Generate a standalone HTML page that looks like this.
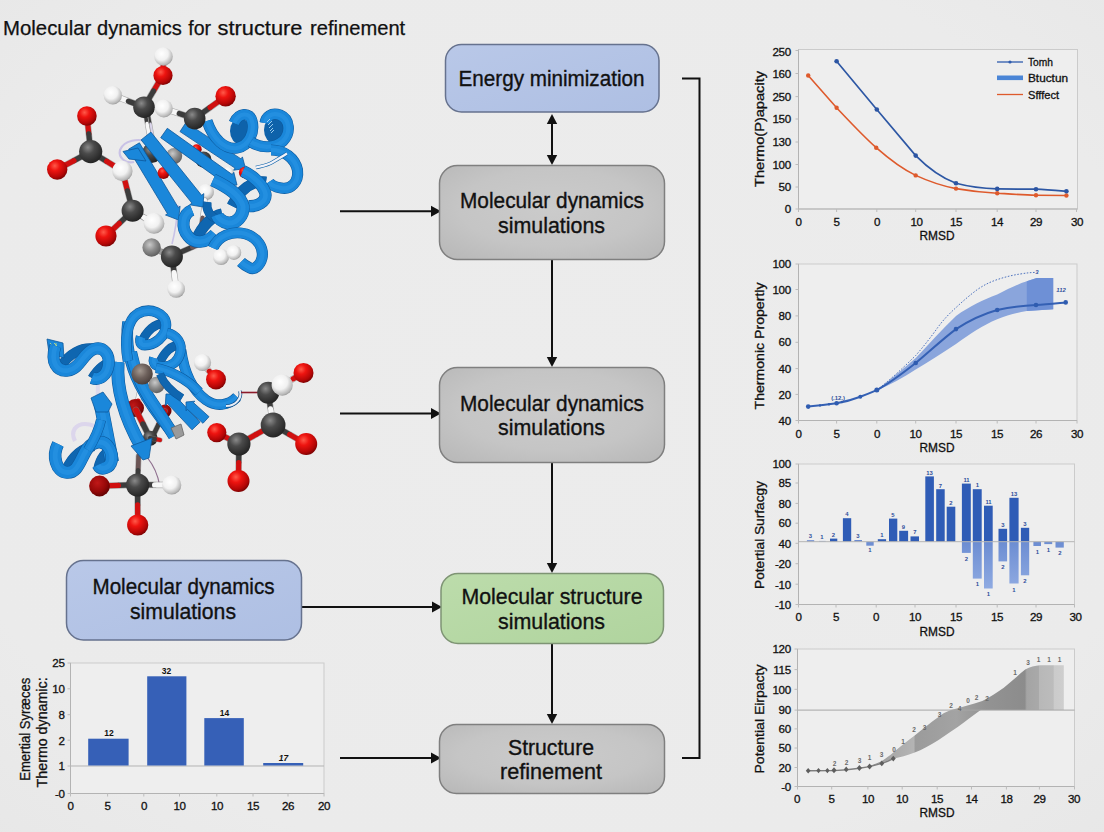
<!DOCTYPE html>
<html>
<head>
<meta charset="utf-8">
<title>Molecular dynamics for structure refinement</title>
<style>
html,body{margin:0;padding:0;background:#eaeaea;}
body{width:1104px;height:832px;overflow:hidden;font-family:"Liberation Sans",sans-serif;}
svg{display:block;position:absolute;left:0;top:0;}
text{font-family:"Liberation Sans",sans-serif;fill:#111;}
.bx{font-size:22px;text-anchor:middle;stroke:#111;stroke-width:0.35px;}
.tk{font-size:11.6px;fill:#111;stroke:#111;stroke-width:0.3px;letter-spacing:-0.35px;}
.tke{font-size:11.6px;fill:#111;text-anchor:end;stroke:#111;stroke-width:0.3px;letter-spacing:-0.35px;}
.tkm{font-size:11.6px;fill:#111;text-anchor:middle;stroke:#111;stroke-width:0.3px;letter-spacing:-0.35px;}
.ax{font-size:13px;fill:#111;text-anchor:middle;stroke:#111;stroke-width:0.3px;}
.sm{font-size:5.9px;fill:#2f4f9c;text-anchor:middle;font-weight:bold;}
.smg{font-size:6.5px;fill:#6a6a6a;text-anchor:middle;font-weight:bold;}
</style>
</head>
<body>
<svg width="1104" height="832" viewBox="0 0 1104 832">
<defs>
  <radialGradient id="bg" cx="50%" cy="48%" r="75%">
    <stop offset="0" stop-color="#ececec"/>
    <stop offset="0.75" stop-color="#ebebeb"/>
    <stop offset="1" stop-color="#e7e7e7"/>
  </radialGradient>
  <radialGradient id="gGray" cx="50%" cy="45%" r="75%">
    <stop offset="0" stop-color="#cbcbcb"/>
    <stop offset="0.55" stop-color="#c5c5c5"/>
    <stop offset="1" stop-color="#b6b6b6"/>
  </radialGradient>
  <linearGradient id="gBlue" x1="0" y1="0" x2="1" y2="1">
    <stop offset="0" stop-color="#b9c8e8"/>
    <stop offset="1" stop-color="#aebfe3"/>
  </linearGradient>
  <linearGradient id="gGreen" x1="0" y1="0" x2="1" y2="1">
    <stop offset="0" stop-color="#bcdcab"/>
    <stop offset="1" stop-color="#b0d49e"/>
  </linearGradient>
  <!-- atom gradients -->
  <radialGradient id="aR" cx="38%" cy="32%" r="70%">
    <stop offset="0" stop-color="#ff5a4a"/>
    <stop offset="0.35" stop-color="#ee1410"/>
    <stop offset="0.8" stop-color="#b30606"/>
    <stop offset="1" stop-color="#7c0303"/>
  </radialGradient>
  <radialGradient id="aC" cx="38%" cy="32%" r="70%">
    <stop offset="0" stop-color="#8a8a8a"/>
    <stop offset="0.4" stop-color="#4a4a4a"/>
    <stop offset="1" stop-color="#232323"/>
  </radialGradient>
  <radialGradient id="aW" cx="40%" cy="35%" r="70%">
    <stop offset="0" stop-color="#ffffff"/>
    <stop offset="0.5" stop-color="#f1f1f1"/>
    <stop offset="0.85" stop-color="#b9b9b9"/>
    <stop offset="1" stop-color="#8f8f8f"/>
  </radialGradient>
  <radialGradient id="aG" cx="40%" cy="35%" r="70%">
    <stop offset="0" stop-color="#c9c9c9"/>
    <stop offset="0.5" stop-color="#8b8b8b"/>
    <stop offset="1" stop-color="#5a5a5a"/>
  </radialGradient>
  <radialGradient id="aBr" cx="40%" cy="35%" r="70%">
    <stop offset="0" stop-color="#a39890"/>
    <stop offset="0.5" stop-color="#6d605b"/>
    <stop offset="1" stop-color="#453a37"/>
  </radialGradient>
  <radialGradient id="aDR" cx="40%" cy="35%" r="70%">
    <stop offset="0" stop-color="#c01818"/>
    <stop offset="0.6" stop-color="#960808"/>
    <stop offset="1" stop-color="#5c0202"/>
  </radialGradient>
</defs>
<rect x="0" y="0" width="1104" height="832" fill="url(#bg)"/>

<!-- TITLE -->
<g font-size="20.5" stroke="#111" stroke-width="0.25"><text x="3" y="35.4" textLength="88.3" lengthAdjust="spacingAndGlyphs">Molecular</text><text x="97" y="35.4" textLength="84.8" lengthAdjust="spacingAndGlyphs">dynamics</text><text x="188.3" y="35.4" textLength="22.8" lengthAdjust="spacingAndGlyphs">for</text><text x="217.6" y="35.4" textLength="84.8" lengthAdjust="spacingAndGlyphs">structure</text><text x="310" y="35.4" textLength="95.2" lengthAdjust="spacingAndGlyphs">refinement</text></g>

<!-- FLOW: connectors -->
<g id="flow-lines" stroke="#111" stroke-width="2" fill="none">
  <path d="M552 121V158"/>
  <path d="M552 259V358"/>
  <path d="M552 462V564"/>
  <path d="M552 643V715"/>
  <path d="M340 211.2H432"/>
  <path d="M340 413.6H432"/>
  <path d="M301 607H433"/>
  <path d="M340 758H432"/>
  <path d="M682 78.5H699.5V758H682"/>
</g>
<g id="flow-heads" fill="#111">
  <path d="M552 114l5.2 10h-10.4z"/>
  <path d="M552 165l5.2-10h-10.4z"/>
  <path d="M552 367l5.2-10h-10.4z"/>
  <path d="M552 573l5.2-10h-10.4z"/>
  <path d="M552 724l5.2-10h-10.4z"/>
  <path d="M441 211.2l-10-5.5v11z"/>
  <path d="M441 413.6l-10-5.5v11z"/>
  <path d="M442 607l-10-5.5v11z"/>
  <path d="M441 758l-10-5.5v11z"/>
</g>

<!-- FLOW: boxes -->
<g id="flow-boxes">
  <rect x="445.5" y="44.5" width="213.5" height="67.5" rx="16" fill="url(#gBlue)" stroke="#66728e" stroke-width="1.5"/>
  <rect x="439.5" y="165.5" width="225" height="94" rx="18" fill="url(#gGray)" stroke="#7f7f7f" stroke-width="1.5"/>
  <rect x="439.5" y="367.5" width="225" height="95" rx="18" fill="url(#gGray)" stroke="#7f7f7f" stroke-width="1.5"/>
  <rect x="441" y="573.5" width="222.5" height="70" rx="17" fill="url(#gGreen)" stroke="#7e9474" stroke-width="1.5"/>
  <rect x="439.5" y="724.5" width="225" height="69" rx="17" fill="url(#gGray)" stroke="#7f7f7f" stroke-width="1.5"/>
  <rect x="66.5" y="560.5" width="235" height="79.5" rx="17" fill="url(#gBlue)" stroke="#66728e" stroke-width="1.5"/>
</g>
<g id="flow-text">
  <text class="bx" x="551.5" y="85.5" textLength="186" lengthAdjust="spacingAndGlyphs">Energy minimization</text>
  <text class="bx" x="552" y="208.0" textLength="184" lengthAdjust="spacingAndGlyphs">Molecular dynamics</text>
  <text class="bx" x="551.5" y="232.5" textLength="107" lengthAdjust="spacingAndGlyphs">simulations</text>
  <text class="bx" x="552" y="410.5" textLength="184" lengthAdjust="spacingAndGlyphs">Molecular dynamics</text>
  <text class="bx" x="551.5" y="435.0" textLength="107" lengthAdjust="spacingAndGlyphs">simulations</text>
  <text class="bx" x="552" y="604.0" textLength="181" lengthAdjust="spacingAndGlyphs">Molecular structure</text>
  <text class="bx" x="551.5" y="628.5" textLength="107" lengthAdjust="spacingAndGlyphs">simulations</text>
  <text class="bx" x="551" y="754.5" textLength="86" lengthAdjust="spacingAndGlyphs">Structure</text>
  <text class="bx" x="551" y="779.0" textLength="102" lengthAdjust="spacingAndGlyphs">refinement</text>
  <text class="bx" x="183.5" y="594.0" textLength="182" lengthAdjust="spacingAndGlyphs">Molecular dynamics</text>
  <text class="bx" x="183" y="618.5" textLength="106" lengthAdjust="spacingAndGlyphs">simulations</text>
</g>


<!-- ============ CHART 1 (line) ============ -->
<g id="chart1">
  <rect x="798.5" y="49.5" width="279" height="159.5" fill="#eeeeee" stroke="#cbcbcb" stroke-width="1"/>
  <path d="M798.5 49.5V209H1077.5" fill="none" stroke="#b3b3b3" stroke-width="1"/><path d="M798.5 209v3M836.6 209v3M876.8 209v3M915.7 209v3M956 209v3M997.2 209v3M1036 209v3M1076.5 209v3M798.5 50.5h-3M798.5 73.5h-3M798.5 96.6h-3M798.5 119h-3M798.5 142h-3M798.5 164.5h-3M798.5 187h-3M798.5 209h-3" stroke="#bcbcbc" stroke-width="1" fill="none"/>
  <g class="tke">
    <text class="tke" x="790.8" y="55.6">250</text>
    <text class="tke" x="790.8" y="77.6">160</text>
    <text class="tke" x="790.8" y="100.6">250</text>
    <text class="tke" x="790.8" y="123.1">150</text>
    <text class="tke" x="790.8" y="146.1">130</text>
    <text class="tke" x="790.8" y="168.6">100</text>
    <text class="tke" x="790.8" y="191.1">50</text>
    <text class="tke" x="790.8" y="213.1">0</text>
  </g>
  <g>
    <text class="tkm" x="798.5" y="225.6">0</text>
    <text class="tkm" x="836.5" y="225.6">5</text>
    <text class="tkm" x="877" y="225.6">0</text>
    <text class="tkm" x="916.5" y="225.6">10</text>
    <text class="tkm" x="956" y="225.6">15</text>
    <text class="tkm" x="997" y="225.6">14</text>
    <text class="tkm" x="1036" y="225.6">29</text>
    <text class="tkm" x="1077" y="225.6">30</text>
  </g>
  <text class="ax" x="937" y="240.4" textLength="35" lengthAdjust="spacingAndGlyphs">RMSD</text>
  <text class="ax" transform="translate(763.6 129) rotate(-90)" textLength="116" lengthAdjust="spacingAndGlyphs">Thermo(P)apacity</text>
  <!-- orange -->
  <path d="M808.2 75.5 L836.6 107.8 C850 122 863 136 876.2 147.7 C889 159 902 169 915.7 175.4 C929 181.5 942 186 956 188.6 C970 191 983 192.5 997.2 193.2 C1010 194 1023 195 1036 195.2 L1066.4 195.5" fill="none" stroke="#de5a2c" stroke-width="1.6"/>
  <g fill="#de5a2c">
    <circle cx="808.2" cy="75.5" r="2.2"/><circle cx="836.6" cy="107.8" r="2.2"/><circle cx="876.2" cy="147.7" r="2.2"/><circle cx="915.7" cy="175.4" r="2.2"/><circle cx="956" cy="188.6" r="2.2"/><circle cx="997.2" cy="193.2" r="2.2"/><circle cx="1036" cy="195.2" r="2.2"/><circle cx="1066.4" cy="195.5" r="2.2"/>
  </g>
  <!-- blue -->
  <path d="M836.6 61.3 L876.8 109.5 L915.7 155.6 C929 169 942 178 956 183.3 C970 187 983 188.5 997.2 188.9 C1010 189 1023 189 1036 189.2 C1046 189.6 1056 190.4 1066.4 191.2" fill="none" stroke="#2d57a4" stroke-width="1.7"/>
  <g fill="#2c55a3">
    <circle cx="836.6" cy="61.3" r="2.3"/><circle cx="876.8" cy="109.5" r="2.3"/><circle cx="915.7" cy="155.6" r="2.3"/><circle cx="956" cy="183.3" r="2.3"/><circle cx="997.2" cy="188.9" r="2.3"/><circle cx="1036" cy="189.2" r="2.3"/><circle cx="1066.4" cy="191.2" r="2.3"/>
  </g>
  <!-- legend -->
  <path d="M997 62H1023" stroke="#2f5cae" stroke-width="1.3"/><circle cx="1010" cy="62" r="1.6" fill="#2f5cae"/>
  <rect x="997" y="75.5" width="26" height="4.6" fill="#4a85d6"/>
  <path d="M997 94.5H1023" stroke="#de5a2c" stroke-width="1.3"/>
  <text x="1028" y="65.8" font-size="10.5" textLength="25" lengthAdjust="spacingAndGlyphs" stroke="#111" stroke-width="0.3">Tomh</text>
  <text x="1028" y="81.8" font-size="10.5" textLength="40" lengthAdjust="spacingAndGlyphs" stroke="#111" stroke-width="0.3">Btuctun</text>
  <text x="1028" y="98.5" font-size="10.5" textLength="31" lengthAdjust="spacingAndGlyphs" stroke="#111" stroke-width="0.3">Sfffect</text>
</g>

<!-- ============ CHART 2 (band) ============ -->
<g id="chart2">
  <rect x="798.5" y="264" width="278.5" height="156.5" fill="#eeeeee" stroke="#cbcbcb" stroke-width="1"/>
  <path d="M798.5 264V420.5H1077" fill="none" stroke="#b3b3b3" stroke-width="1"/><path d="M798.5 420.5v3M836.6 420.5v3M876.8 420.5v3M915.7 420.5v3M956 420.5v3M997.2 420.5v3M1036 420.5v3M1077 420.5v3M798.5 264h-3M798.5 289.5h-3M798.5 315.9h-3M798.5 342.3h-3M798.5 368.6h-3M798.5 394.4h-3M798.5 420.5h-3" stroke="#bcbcbc" stroke-width="1" fill="none"/>
  <g>
    <text class="tke" x="790.8" y="268.1">100</text>
    <text class="tke" x="790.8" y="293.6">100</text>
    <text class="tke" x="790.8" y="320.1">80</text>
    <text class="tke" x="790.8" y="346.1">60</text>
    <text class="tke" x="790.8" y="372.6">40</text>
    <text class="tke" x="790.8" y="398.6">20</text>
    <text class="tke" x="790.8" y="424.6">40</text>
  </g>
  <g>
    <text class="tkm" x="798.5" y="437.6">0</text>
    <text class="tkm" x="836.5" y="437.6">5</text>
    <text class="tkm" x="877" y="437.6">0</text>
    <text class="tkm" x="915.5" y="437.6">10</text>
    <text class="tkm" x="956" y="437.6">15</text>
    <text class="tkm" x="997" y="437.6">15</text>
    <text class="tkm" x="1036" y="437.6">26</text>
    <text class="tkm" x="1077" y="437.6">30</text>
  </g>
  <text class="ax" x="937" y="452.4" textLength="35" lengthAdjust="spacingAndGlyphs">RMSD</text>
  <text class="ax" transform="translate(763.6 346) rotate(-90)" textLength="127" lengthAdjust="spacingAndGlyphs">Thermonic Propertly</text>
  <!-- band -->
  <path d="M876.8 389.8 C890 380 903 369 915.7 358 C929 344 942 329 956 315.9 C970 306 983 300 997.2 294.5 C1008 289 1018 284 1026.8 281.3 L1036.7 278 H1053.2 V309.3 L1026.8 311 C1016 313 1007 315.5 997.2 319.2 C983 325 970 334 956 344 C942 353 929 362 915.7 369.5 C903 377.5 890 385 876.8 390.6 Z" fill="#8aa5dc"/>
  <path d="M1026.8 281.3 L1036.7 278 H1053.2 V309.3 L1026.8 311 Z" fill="#6e90d6"/>
  <!-- dotted -->
  <path d="M876.8 390 C890 380 903 368 915.7 355.5 C924 346 931 337 937.8 327.4 C944 319 950 313 956 307.6 C963 301 970 295 977.4 289.5 C984 285 990 282 997.2 279.6 C1005 277 1013 275 1020.3 274 C1026 273 1030 272.6 1035 272.4" fill="none" stroke="#4f74bf" stroke-width="1" stroke-dasharray="1.6 1.6"/>
  <!-- main -->
  <path d="M808.2 406.6 C818 405.8 827 404.8 836.6 403.3 C845 401.7 853 399.5 860.3 396.7 C866 394.6 871 392.6 876.8 390.1 C890 383 903 373 915.7 363 C929 352 942 339.5 956 329.1 C970 320 983 314 997.2 310 C1010 307 1023 305.6 1036 305 C1046 304.3 1056 303.3 1065.7 302.4" fill="none" stroke="#3460b4" stroke-width="2"/>
  <g fill="#2f5cb0">
    <circle cx="808.2" cy="406.6" r="2.3"/><circle cx="836.6" cy="403.3" r="2.3"/><circle cx="860.3" cy="396.7" r="2"/><circle cx="876.8" cy="390.1" r="2.5"/><circle cx="915.7" cy="363" r="2.3"/><circle cx="956" cy="329.1" r="2.3"/><circle cx="997.2" cy="310" r="2.3"/><circle cx="1036" cy="305" r="2.3"/><circle cx="1065.7" cy="302.4" r="2.3"/>
    <circle cx="820" cy="405.4" r="1.2"/><circle cx="829" cy="404.3" r="1.2"/><circle cx="842" cy="402" r="1.2"/>
  </g>
  <text class="sm" x="1037" y="274" font-style="italic" font-size="8">3</text>
  <text class="sm" x="1061" y="291.5" font-style="italic" font-size="8">112</text>
  <text class="sm" x="838" y="400" font-size="6">(.12.)</text>
</g>

<!-- ============ CHART 3 (bars +/-) ============ -->
<g id="chart3">
  <rect x="798.5" y="464" width="276" height="140.5" fill="#eeeeee" stroke="#cbcbcb" stroke-width="1"/>
  <path d="M798.5 464V604.5H1074.5" fill="none" stroke="#b3b3b3" stroke-width="1"/><path d="M798.5 604.5v3M836 604.5v3M876.2 604.5v3M915 604.5v3M956 604.5v3M997.2 604.5v3M1036 604.5v3M1074.5 604.5v3M798.5 464h-3M798.5 483h-3M798.5 503.4h-3M798.5 523.2h-3M798.5 543.3h-3M798.5 563.7h-3M798.5 584.2h-3M798.5 604.5h-3" stroke="#bcbcbc" stroke-width="1" fill="none"/>
  <g>
    <text class="tke" x="790.8" y="468.1">100</text>
    <text class="tke" x="790.8" y="487.1">85</text>
    <text class="tke" x="790.8" y="507.6">80</text>
    <text class="tke" x="790.8" y="527.1">60</text>
    <text class="tke" x="790.8" y="547.6">40</text>
    <text class="tke" x="790.8" y="568.1">-20</text>
    <text class="tke" x="790.8" y="588.6">-10</text>
    <text class="tke" x="790.8" y="608.6">-10</text>
  </g>
  <g>
    <text class="tkm" x="798.5" y="620.6">0</text>
    <text class="tkm" x="836" y="620.6">5</text>
    <text class="tkm" x="876" y="620.6">0</text>
    <text class="tkm" x="915" y="620.6">10</text>
    <text class="tkm" x="956" y="620.6">15</text>
    <text class="tkm" x="997" y="620.6">15</text>
    <text class="tkm" x="1036" y="620.6">29</text>
    <text class="tkm" x="1075.5" y="620.6">30</text>
  </g>
  <text class="ax" x="937" y="635.9" textLength="35" lengthAdjust="spacingAndGlyphs">RMSD</text>
  <text class="ax" transform="translate(763.6 535) rotate(-90)" textLength="108" lengthAdjust="spacingAndGlyphs">Potertial Surfacgy</text>
  <!-- negative bars -->
  <defs><linearGradient id="gNeg" gradientUnits="userSpaceOnUse" x1="0" y1="541.7" x2="0" y2="590"><stop offset="0" stop-color="#6c8dd2"/><stop offset="1" stop-color="#90abe2"/></linearGradient></defs>
  <g fill="url(#gNeg)">
    <rect x="866.3" y="541.7" width="7.4" height="4"/>
    <rect x="961.9" y="541.7" width="8.9" height="11.2"/>
    <rect x="972.8" y="541.7" width="8.9" height="36.9"/>
    <rect x="984" y="541.7" width="8.7" height="46.8"/>
    <rect x="998.5" y="541.7" width="8.6" height="19.7"/>
    <rect x="1009.4" y="541.7" width="9.2" height="41.8"/>
    <rect x="1020.9" y="541.7" width="8.3" height="33.6"/>
    <rect x="1033.4" y="541.7" width="7.6" height="4.3"/>
    <rect x="1044.3" y="541.7" width="7.9" height="2.4"/>
    <rect x="1055.5" y="541.7" width="8.3" height="5.9"/>
  </g>
  <!-- positive bars -->
  <g fill="#2f5cb6">
    <rect x="806.9" y="540.2" width="7.3" height="1.5" fill="#6c8bd0"/>
    <rect x="819" y="540.9" width="6.7" height="0.8" fill="#8fa9e0"/>
    <rect x="830" y="538.6" width="7.3" height="3.1"/>
    <rect x="842.9" y="518.2" width="8.3" height="23.5"/>
    <rect x="854.4" y="540" width="7.6" height="1.7" fill="#6c8bd0"/>
    <rect x="877.8" y="539.2" width="8.3" height="2.5"/>
    <rect x="889" y="518.6" width="8.3" height="23.1"/>
    <rect x="899.2" y="530.8" width="8.9" height="10.9"/>
    <rect x="910.5" y="536.4" width="8.5" height="5.3"/>
    <rect x="925.3" y="476.4" width="8.6" height="65.3"/>
    <rect x="936.2" y="489.2" width="8.5" height="52.5"/>
    <rect x="946.7" y="506.7" width="8.6" height="35"/>
    <rect x="961.9" y="483.6" width="8.9" height="58.1"/>
    <rect x="972.8" y="489.2" width="8.9" height="52.5"/>
    <rect x="984" y="505.7" width="8.7" height="36"/>
    <rect x="998.5" y="528.8" width="8.6" height="12.9"/>
    <rect x="1009.4" y="497.8" width="9.2" height="43.9"/>
    <rect x="1020.9" y="527.8" width="8.3" height="13.9"/>
  </g>
  <path d="M798.5 541.7H1074.5" stroke="#b4b4b4" stroke-width="1"/>
  <g class="sm">
    <text class="sm" x="810.5" y="538">3</text><text class="sm" x="822" y="539">1</text><text class="sm" x="833.5" y="536.5">2</text>
    <text class="sm" x="847" y="516">4</text><text class="sm" x="858" y="538">3</text><text class="sm" x="870" y="552">1</text>
    <text class="sm" x="882" y="537">1</text><text class="sm" x="893" y="516.5">5</text><text class="sm" x="903.5" y="528.5">9</text>
    <text class="sm" x="915" y="534">7</text><text class="sm" x="929.5" y="474.5">13</text><text class="sm" x="940.5" y="487.5">7</text>
    <text class="sm" x="951" y="504.5">2</text><text class="sm" x="966.5" y="481.5">11</text><text class="sm" x="977.5" y="487">1</text>
    <text class="sm" x="988.5" y="503.5">11</text><text class="sm" x="1003" y="526.5">3</text><text class="sm" x="1014" y="495.5">13</text>
    <text class="sm" x="1025" y="525.5">3</text>
    <text class="sm" x="966.5" y="560.5">2</text><text class="sm" x="977.5" y="586">1</text><text class="sm" x="988.5" y="596">1</text>
    <text class="sm" x="1003" y="569">2</text><text class="sm" x="1014" y="591.5">1</text><text class="sm" x="1025" y="583">2</text>
    <text class="sm" x="1037.5" y="553.5">1</text><text class="sm" x="1048.5" y="551.5">1</text><text class="sm" x="1060" y="555">2</text>
  </g>
</g>

<!-- ============ CHART 4 (gray area) ============ -->
<g id="chart4">
  <rect x="797.5" y="649" width="277" height="137.5" fill="#eeeeee" stroke="#cbcbcb" stroke-width="1"/>
  <path d="M797.5 649V786.5H1074.5" fill="none" stroke="#b3b3b3" stroke-width="1"/><path d="M797.5 786.5v3M831.7 786.5v3M867.9 786.5v3M902.2 786.5v3M937.2 786.5v3M971.5 786.5v3M1006.4 786.5v3M1039.4 786.5v3M1074.5 786.5v3M797.5 649h-3M797.5 669.6h-3M797.5 689.3h-3M797.5 710.1h-3M797.5 728.9h-3M797.5 748h-3M797.5 767.5h-3M797.5 786.5h-3" stroke="#bcbcbc" stroke-width="1" fill="none"/>
  <g>
    <text class="tke" x="790.8" y="653.1">120</text>
    <text class="tke" x="790.8" y="673.6">115</text>
    <text class="tke" x="790.8" y="693.6">100</text>
    <text class="tke" x="790.8" y="714.1">90</text>
    <text class="tke" x="790.8" y="733.1">60</text>
    <text class="tke" x="790.8" y="752.1">50</text>
    <text class="tke" x="790.8" y="771.6">20</text>
    <text class="tke" x="790.8" y="790.6">-0</text>
  </g>
  <g>
    <text class="tkm" x="797" y="803.1">0</text>
    <text class="tkm" x="831.5" y="803.1">5</text>
    <text class="tkm" x="868" y="803.1">10</text>
    <text class="tkm" x="902" y="803.1">10</text>
    <text class="tkm" x="937" y="803.1">15</text>
    <text class="tkm" x="971.5" y="803.1">14</text>
    <text class="tkm" x="1006.5" y="803.1">18</text>
    <text class="tkm" x="1039.5" y="803.1">29</text>
    <text class="tkm" x="1074" y="803.1">30</text>
  </g>
  <text class="ax" x="937" y="817.4" textLength="35" lengthAdjust="spacingAndGlyphs">RMSD</text>
  <text class="ax" transform="translate(763.6 719) rotate(-90)" textLength="109" lengthAdjust="spacingAndGlyphs">Potential Eirpacty</text>
  <defs>
    <linearGradient id="gArea" gradientUnits="userSpaceOnUse" x1="868" y1="0" x2="1064" y2="0">
      <stop offset="0" stop-color="#8a8a8a"/>
      <stop offset="0.12" stop-color="#a9a9a9"/>
      <stop offset="0.235" stop-color="#b4b4b4"/>
      <stop offset="0.24" stop-color="#9b9b9b"/>
      <stop offset="0.45" stop-color="#a3a3a3"/>
      <stop offset="0.6" stop-color="#939393"/>
      <stop offset="0.8" stop-color="#8c8c8c"/>
      <stop offset="0.81" stop-color="#a4a4a4"/>
      <stop offset="0.87" stop-color="#a9a9a9"/>
      <stop offset="0.875" stop-color="#b8b8b8"/>
      <stop offset="0.945" stop-color="#bcbcbc"/>
      <stop offset="0.95" stop-color="#cbcbcb"/>
      <stop offset="1" stop-color="#cecece"/>
    </linearGradient>
  </defs>
  <path d="M869.6 766 C874 764.5 878 763 881.8 761 C886 758.5 890 755.5 893.3 752.6 C900 747 907 741 914.7 735.5 C922 729.5 930 723 937.8 717.4 C942 714.3 946 711.8 951 710.1 C961 707 972 704.5 982.3 700.9 C990 697 997 692.5 1003.8 687.7 C1011 682 1018 675.5 1025.2 669.6 C1030 667 1035 665.6 1040 665.3 H1063.8 V710.1 H980.7 C975 714 970 718 964.2 722.3 C955 729 946 735 937.8 740.4 C930 745 922 749.5 914.7 752.6 C907 755.5 900 757.3 893.3 758.8 C885 761.5 877 764.5 869.6 767 Z" fill="url(#gArea)"/>
  <path d="M797.5 710.1H1074.5" stroke="#a6a6a6" stroke-width="1"/>
  <path d="M808.2 770.8 L834 770.6 C842 770.2 851 769.4 859.4 768.3 C866 767.4 875 765.6 881.8 763.4 C886 762 890 760.4 893.3 758.6" fill="none" stroke="#7d7d7d" stroke-width="1.4"/>
  <g fill="#5e5e5e">
    <path d="M808.2 768l2.4 2.8-2.4 2.8-2.4-2.8z"/><path d="M818.5 768l2.2 2.6-2.2 2.6-2.2-2.6z"/><path d="M827.4 768l2.2 2.6-2.2 2.6-2.2-2.6z"/><path d="M834 767.3l2.6 3-2.6 3-2.6-3z"/>
    <path d="M846.2 766.6l2.4 2.8-2.4 2.8-2.4-2.8z"/><path d="M859.4 765l2.6 3-2.6 3-2.6-3z"/><path d="M869.6 763.5l2.6 3-2.6 3-2.6-3z"/><path d="M881.8 760.6l2.4 2.8-2.4 2.8-2.4-2.8z"/><path d="M893.3 755.8l2.4 2.8-2.4 2.8-2.4-2.8z"/>
  </g>
  <g>
    <text class="smg" x="834.5" y="765.5">2</text><text class="smg" x="846.5" y="764.5">2</text><text class="smg" x="859.5" y="763">3</text><text class="smg" x="869.5" y="760">1</text><text class="smg" x="881.5" y="756.5">3</text>
    <text class="smg" x="894" y="751.5">0</text><text class="smg" x="903" y="743.5">1</text><text class="smg" x="914" y="732">2</text><text class="smg" x="924.5" y="730">3</text><text class="smg" x="939.5" y="717">3</text>
    <text class="smg" x="951" y="707.5">2</text><text class="smg" x="959.5" y="710.5">4</text><text class="smg" x="968" y="703">0</text><text class="smg" x="976.5" y="699.5">2</text><text class="smg" x="987" y="701">2</text>
    <text class="smg" x="1015" y="675">1</text><text class="smg" x="1028" y="665">3</text><text class="smg" x="1038.5" y="662">1</text><text class="smg" x="1049" y="661.5">1</text><text class="smg" x="1059.5" y="662">1</text>
  </g>
</g>

<!-- ============ BAR CHART (bottom-left) ============ -->
<g id="chart5">
  <rect x="70.5" y="663" width="253.5" height="130.5" fill="#eeeeee" stroke="#cbcbcb" stroke-width="1"/>
  <path d="M70.5 663V793.5H324" fill="none" stroke="#b3b3b3" stroke-width="1"/><path d="M70.5 793.5v3M107.6 793.5v3M143.8 793.5v3M179.5 793.5v3M216.8 793.5v3M253 793.5v3M288 793.5v3M324 793.5v3M70.5 663h-3M70.5 688.8h-3M70.5 714.7h-3M70.5 740.2h-3M70.5 766h-3M70.5 793.5h-3" stroke="#bcbcbc" stroke-width="1" fill="none"/>
  <path d="M70.5 766H324" stroke="#b3b3b3" stroke-width="1"/>
  <g>
    <text class="tke" x="64.5" y="667.1">25</text>
    <text class="tke" x="64.5" y="693.1">10</text>
    <text class="tke" x="64.5" y="719.1">8</text>
    <text class="tke" x="64.5" y="744.6">2</text>
    <text class="tke" x="64.5" y="770.1">1</text>
    <text class="tke" x="64.5" y="797.6">-0</text>
  </g>
  <g>
    <text class="tkm" x="70.5" y="810.1">0</text>
    <text class="tkm" x="107.5" y="810.1">5</text>
    <text class="tkm" x="144" y="810.1">0</text>
    <text class="tkm" x="179.5" y="810.1">10</text>
    <text class="tkm" x="217" y="810.1">10</text>
    <text class="tkm" x="253" y="810.1">15</text>
    <text class="tkm" x="288" y="810.1">26</text>
    <text class="tkm" x="324" y="810.1">20</text>
  </g>
  <g fill="#3660b7">
    <rect x="88.2" y="738.7" width="40.4" height="26.8"/>
    <rect x="147.2" y="676.3" width="39.2" height="89.2"/>
    <rect x="204.3" y="718.1" width="39.5" height="47.4"/>
    <rect x="263.2" y="763" width="40" height="2.5"/>
  </g>
  <g font-size="8.5" text-anchor="middle" fill="#222" font-weight="bold">
    <text x="109" y="736" font-size="8.5">12</text>
    <text x="166.6" y="674" font-size="8.5">32</text>
    <text x="224.4" y="716" font-size="8.5">14</text>
    <text x="283.4" y="761" font-size="8.5" font-style="italic">17</text>
  </g>
  <text class="ax" style="font-size:14.5px" transform="translate(30.2 729.3) rotate(-90)" textLength="103" lengthAdjust="spacingAndGlyphs">Emertial Syræces</text>
  <text class="ax" style="font-size:14.5px" transform="translate(46.5 732.4) rotate(-90)" textLength="110" lengthAdjust="spacingAndGlyphs">Thermo dynamic:</text>
</g>


<!--PROTEINS-->
<g id="protein1">
<path d="M144 107L150 140" stroke="#7c7c7c" stroke-opacity="0.6" stroke-width="4.6" stroke-linecap="round"/><path d="M144 107L147.0 123.5" stroke="#3c3c3c" stroke-width="3.4" stroke-linecap="round"/><path d="M147.0 123.5L150 140" stroke="#f7f7f7" stroke-width="3.4" stroke-linecap="round"/>
<path d="M147.5 107L153.5 140" stroke="#7c7c7c" stroke-opacity="0.6" stroke-width="3.2" stroke-linecap="round"/><path d="M147.5 107L150.5 123.5" stroke="#3c3c3c" stroke-width="2" stroke-linecap="round"/><path d="M150.5 123.5L153.5 140" stroke="#d9d3ea" stroke-width="2" stroke-linecap="round"/>
<circle cx="174.2" cy="156" r="8" fill="url(#aG)"/>
<circle cx="196.7" cy="149.3" r="5" fill="url(#aR)"/>
<circle cx="203.5" cy="159.5" r="8" fill="url(#aC)"/>
<circle cx="206" cy="192" r="8" fill="url(#aW)"/>
<circle cx="228" cy="173" r="6" fill="url(#aW)"/>
<path d="M172 256L213 238" stroke="#7c7c7c" stroke-opacity="0.6" stroke-width="6.2" stroke-linecap="round"/><path d="M172 256L192.5 247.0" stroke="#3c3c3c" stroke-width="5" stroke-linecap="round"/><path d="M192.5 247.0L213 238" stroke="#6b5555" stroke-width="5" stroke-linecap="round"/>
<path d="M205 200L200 235" stroke="#7c7c7c" stroke-opacity="0.6" stroke-width="5.2" stroke-linecap="round"/><path d="M205 200L202.5 217.5" stroke="#f7f7f7" stroke-width="4" stroke-linecap="round"/><path d="M202.5 217.5L200 235" stroke="#6b5555" stroke-width="4" stroke-linecap="round"/>
<path d="M150 142C138 138 124 140 120 150C118 158 126 164 134 162" fill="none" stroke="#c9c2e6" stroke-width="2.2"/>
<path d="M178 205C177 220 175 232 172 244" fill="none" stroke="#c9c2e6" stroke-width="1.6"/>
<ellipse cx="240" cy="131" rx="10" ry="13" fill="#0e62aa"/>
<ellipse cx="274" cy="130" rx="10" ry="13" fill="#0e62aa"/>
<path d="M232 206C240 190 252 180 266 182" fill="none" stroke="#0c589c" stroke-width="11.1" stroke-linecap="butt" stroke-linejoin="round"/><path d="M232 206C240 190 252 180 266 182" fill="none" stroke="#0f66b0" stroke-width="10" stroke-linecap="butt" stroke-linejoin="round"/>
<path d="M196 240C202 226 212 216 222 214" fill="none" stroke="#0c589c" stroke-width="11.1" stroke-linecap="butt" stroke-linejoin="round"/><path d="M196 240C202 226 212 216 222 214" fill="none" stroke="#0f66b0" stroke-width="10" stroke-linecap="butt" stroke-linejoin="round"/>
<path d="M207 202C206 210 210 218 219 219" fill="none" stroke="#0c589c" stroke-width="9.1" stroke-linecap="butt" stroke-linejoin="round"/><path d="M207 202C206 210 210 218 219 219" fill="none" stroke="#0f66b0" stroke-width="8" stroke-linecap="butt" stroke-linejoin="round"/>
<circle cx="151.7" cy="153.2" r="9.8" fill="url(#aC)"/>
<polygon points="128.6,149.2 167.5,213.8 165.5,215.0 178.5,220 180.1,206.2 178.2,207.4 139.4,142.8" fill="#1a87da" stroke="#0c589c" stroke-width="0.8" stroke-linejoin="round"/>
<polygon points="123,151.5 138,148 146,161 129,159" fill="#1a87da" stroke="#0c589c" stroke-width="0.8" stroke-linejoin="round"/>
<circle cx="163.6" cy="173" r="6" fill="url(#aR)"/>
<polygon points="141.1,139.9 191.9,203.1 189.7,204.8 203,207 203.8,193.6 201.6,195.3 150.9,132.1" fill="#1a87da" stroke="#0c589c" stroke-width="0.8" stroke-linejoin="round"/>
<polygon points="160.7,137.7 225.5,183.9 223.9,186.1 237,185 233.8,172.3 232.2,174.5 167.3,128.3" fill="#1a87da" stroke="#0c589c" stroke-width="0.8" stroke-linejoin="round"/>
<polygon points="180.0,131.6 235.0,168.1 233.6,170.2 245.5,168.5 242.4,156.9 241.0,158.9 186.0,122.4" fill="#1a87da" stroke="#0c589c" stroke-width="0.8" stroke-linejoin="round"/>
<circle cx="244.7" cy="172.5" r="5.8" fill="url(#aR)"/>
<path d="M207 121C213 139 225 150 237 148C249 146 255 132 252 121C250 112 239 112 234 123" fill="none" stroke="#0c589c" stroke-width="11.1" stroke-linecap="butt" stroke-linejoin="round"/><path d="M207 121C213 139 225 150 237 148C249 146 255 132 252 121C250 112 239 112 234 123" fill="none" stroke="#1a87da" stroke-width="10" stroke-linecap="butt" stroke-linejoin="round"/><path d="M207 121C213 139 225 150 237 148C249 146 255 132 252 121C250 112 239 112 234 123" fill="none" stroke="#2b96e6" stroke-opacity="0.55" stroke-width="4.2" stroke-linecap="butt" stroke-linejoin="round"/>
<path d="M251 142C262 149 275 148 283 141C291 133 290 119 280 115C271 112 266 117 265 123" fill="none" stroke="#0c589c" stroke-width="11.1" stroke-linecap="butt" stroke-linejoin="round"/><path d="M251 142C262 149 275 148 283 141C291 133 290 119 280 115C271 112 266 117 265 123" fill="none" stroke="#1a87da" stroke-width="10" stroke-linecap="butt" stroke-linejoin="round"/><path d="M251 142C262 149 275 148 283 141C291 133 290 119 280 115C271 112 266 117 265 123" fill="none" stroke="#2b96e6" stroke-opacity="0.55" stroke-width="4.2" stroke-linecap="butt" stroke-linejoin="round"/>
<path d="M267 122l3-3m-2 6l4-4m-3 7l4-4m-3 7l3-3m-2 5l3-3" stroke="#a9d6f4" stroke-width="0.9"/>
<path d="M271 150C284 150 295 158 297.5 170C299 182 291 190 281 188C275 187 271 185 269 182" fill="none" stroke="#0c589c" stroke-width="11.1" stroke-linecap="butt" stroke-linejoin="round"/><path d="M271 150C284 150 295 158 297.5 170C299 182 291 190 281 188C275 187 271 185 269 182" fill="none" stroke="#1a87da" stroke-width="10" stroke-linecap="butt" stroke-linejoin="round"/><path d="M271 150C284 150 295 158 297.5 170C299 182 291 190 281 188C275 187 271 185 269 182" fill="none" stroke="#2b96e6" stroke-opacity="0.55" stroke-width="4.2" stroke-linecap="butt" stroke-linejoin="round"/>
<path d="M243 171C254 176 264 186 265.5 194C266.5 202 257 207 248 206" fill="none" stroke="#0c589c" stroke-width="12.1" stroke-linecap="butt" stroke-linejoin="round"/><path d="M243 171C254 176 264 186 265.5 194C266.5 202 257 207 248 206" fill="none" stroke="#1a87da" stroke-width="11" stroke-linecap="butt" stroke-linejoin="round"/><path d="M243 171C254 176 264 186 265.5 194C266.5 202 257 207 248 206" fill="none" stroke="#2b96e6" stroke-opacity="0.55" stroke-width="4.6" stroke-linecap="butt" stroke-linejoin="round"/>
<path d="M213 180C226 186 240 194 243 206C244 216 236 224 228 223C222 222 218 218 217 215" fill="none" stroke="#0c589c" stroke-width="13.1" stroke-linecap="butt" stroke-linejoin="round"/><path d="M213 180C226 186 240 194 243 206C244 216 236 224 228 223C222 222 218 218 217 215" fill="none" stroke="#1a87da" stroke-width="12" stroke-linecap="butt" stroke-linejoin="round"/><path d="M213 180C226 186 240 194 243 206C244 216 236 224 228 223C222 222 218 218 217 215" fill="none" stroke="#2b96e6" stroke-opacity="0.55" stroke-width="5.0" stroke-linecap="butt" stroke-linejoin="round"/>
<path d="M192 210C182 214 181 228 188 236C194 244 206 244 215 234" fill="none" stroke="#0c589c" stroke-width="12.1" stroke-linecap="butt" stroke-linejoin="round"/><path d="M192 210C182 214 181 228 188 236C194 244 206 244 215 234" fill="none" stroke="#1a87da" stroke-width="11" stroke-linecap="butt" stroke-linejoin="round"/><path d="M192 210C182 214 181 228 188 236C194 244 206 244 215 234" fill="none" stroke="#2b96e6" stroke-opacity="0.55" stroke-width="4.6" stroke-linecap="butt" stroke-linejoin="round"/>
<path d="M213 248C218 236 232 230 246 234C258 238 264 248 262 258C260 266 254 270 250 268C246 266 243 264 241 262" fill="none" stroke="#0c589c" stroke-width="11.1" stroke-linecap="butt" stroke-linejoin="round"/><path d="M213 248C218 236 232 230 246 234C258 238 264 248 262 258C260 266 254 270 250 268C246 266 243 264 241 262" fill="none" stroke="#1a87da" stroke-width="10" stroke-linecap="butt" stroke-linejoin="round"/><path d="M213 248C218 236 232 230 246 234C258 238 264 248 262 258C260 266 254 270 250 268C246 266 243 264 241 262" fill="none" stroke="#2b96e6" stroke-opacity="0.55" stroke-width="4.2" stroke-linecap="butt" stroke-linejoin="round"/>
<path d="M256 167.5C262 166 268 165 272 162.5C278 159 283 156 287 153.5" fill="none" stroke="#0e62aa" stroke-width="3.6"/>
<path d="M256 167.5C262 166 268 165 272 162.5C278 159 283 156 287 153.5" fill="none" stroke="#f2f2f8" stroke-width="2.2"/>
<path d="M163.5 56.5L163 75" stroke="#7c7c7c" stroke-opacity="0.6" stroke-width="6.4" stroke-linecap="round"/><path d="M163.5 56.5L163.2 65.8" stroke="#f7f7f7" stroke-width="5.2" stroke-linecap="round"/><path d="M163.2 65.8L163 75" stroke="#d01010" stroke-width="5.2" stroke-linecap="round"/>
<path d="M163 75L144 107" stroke="#7c7c7c" stroke-opacity="0.6" stroke-width="6.4" stroke-linecap="round"/><path d="M163 75L153.5 91.0" stroke="#d01010" stroke-width="5.2" stroke-linecap="round"/><path d="M153.5 91.0L144 107" stroke="#3c3c3c" stroke-width="5.2" stroke-linecap="round"/>
<path d="M112.8 95.3L144 107" stroke="#7c7c7c" stroke-opacity="0.6" stroke-width="6.4" stroke-linecap="round"/><path d="M112.8 95.3L128.4 101.2" stroke="#f7f7f7" stroke-width="5.2" stroke-linecap="round"/><path d="M128.4 101.2L144 107" stroke="#3c3c3c" stroke-width="5.2" stroke-linecap="round"/>
<path d="M163.8 108.5L194.7 118.6" stroke="#7c7c7c" stroke-opacity="0.6" stroke-width="6.4" stroke-linecap="round"/><path d="M163.8 108.5L179.2 113.5" stroke="#f7f7f7" stroke-width="5.2" stroke-linecap="round"/><path d="M179.2 113.5L194.7 118.6" stroke="#3c3c3c" stroke-width="5.2" stroke-linecap="round"/>
<path d="M194.7 118.6L225.6 96.3" stroke="#7c7c7c" stroke-opacity="0.6" stroke-width="6.4" stroke-linecap="round"/><path d="M194.7 118.6L210.1 107.4" stroke="#3c3c3c" stroke-width="5.2" stroke-linecap="round"/><path d="M210.1 107.4L225.6 96.3" stroke="#d01010" stroke-width="5.2" stroke-linecap="round"/>
<path d="M86.9 116L90.7 151.6" stroke="#7c7c7c" stroke-opacity="0.6" stroke-width="6.4" stroke-linecap="round"/><path d="M86.9 116L88.8 133.8" stroke="#d01010" stroke-width="5.2" stroke-linecap="round"/><path d="M88.8 133.8L90.7 151.6" stroke="#3c3c3c" stroke-width="5.2" stroke-linecap="round"/>
<path d="M90.7 151.6L57.2 169.5" stroke="#7c7c7c" stroke-opacity="0.6" stroke-width="6.4" stroke-linecap="round"/><path d="M90.7 151.6L74.0 160.6" stroke="#3c3c3c" stroke-width="5.2" stroke-linecap="round"/><path d="M74.0 160.6L57.2 169.5" stroke="#d01010" stroke-width="5.2" stroke-linecap="round"/>
<path d="M90.7 151.6L122.4 171" stroke="#7c7c7c" stroke-opacity="0.6" stroke-width="6.4" stroke-linecap="round"/><path d="M90.7 151.6L106.6 161.3" stroke="#3c3c3c" stroke-width="5.2" stroke-linecap="round"/><path d="M106.6 161.3L122.4 171" stroke="#d01010" stroke-width="5.2" stroke-linecap="round"/>
<path d="M122.4 171L132.6 210.7" stroke="#7c7c7c" stroke-opacity="0.6" stroke-width="6.4" stroke-linecap="round"/><path d="M122.4 171L127.5 190.8" stroke="#d01010" stroke-width="5.2" stroke-linecap="round"/><path d="M127.5 190.8L132.6 210.7" stroke="#3c3c3c" stroke-width="5.2" stroke-linecap="round"/>
<path d="M132.6 210.7L106 236" stroke="#7c7c7c" stroke-opacity="0.6" stroke-width="6.4" stroke-linecap="round"/><path d="M132.6 210.7L119.3 223.3" stroke="#3c3c3c" stroke-width="5.2" stroke-linecap="round"/><path d="M119.3 223.3L106 236" stroke="#d01010" stroke-width="5.2" stroke-linecap="round"/>
<path d="M132.6 210.7L154 223.4" stroke="#7c7c7c" stroke-opacity="0.6" stroke-width="6.4" stroke-linecap="round"/><path d="M132.6 210.7L143.3 217.1" stroke="#3c3c3c" stroke-width="5.2" stroke-linecap="round"/><path d="M143.3 217.1L154 223.4" stroke="#f7f7f7" stroke-width="5.2" stroke-linecap="round"/>
<path d="M171.9 256.4L176.2 288.6" stroke="#7c7c7c" stroke-opacity="0.6" stroke-width="6.4" stroke-linecap="round"/><path d="M171.9 256.4L174.1 272.5" stroke="#3c3c3c" stroke-width="5.2" stroke-linecap="round"/><path d="M174.1 272.5L176.2 288.6" stroke="#f7f7f7" stroke-width="5.2" stroke-linecap="round"/>
<path d="M171.9 256.4L151.6 247.5" stroke="#7c7c7c" stroke-opacity="0.6" stroke-width="6.4" stroke-linecap="round"/><path d="M171.9 256.4L161.8 251.9" stroke="#3c3c3c" stroke-width="5.2" stroke-linecap="round"/><path d="M161.8 251.9L151.6 247.5" stroke="#9a9a9a" stroke-width="5.2" stroke-linecap="round"/>
<circle cx="163.5" cy="56.5" r="9.3" fill="url(#aW)"/>
<circle cx="163" cy="75.5" r="9.6" fill="url(#aR)"/>
<circle cx="112.8" cy="95.3" r="9.2" fill="url(#aW)"/>
<circle cx="144" cy="107.2" r="10.8" fill="url(#aC)"/>
<circle cx="163.8" cy="108.5" r="9" fill="url(#aW)"/>
<circle cx="194.7" cy="118.6" r="10.8" fill="url(#aC)"/>
<circle cx="225.6" cy="96.3" r="10.2" fill="url(#aR)"/>
<circle cx="86.9" cy="116" r="9.8" fill="url(#aR)"/>
<circle cx="90.7" cy="151.6" r="11.6" fill="url(#aC)"/>
<circle cx="57.2" cy="169.5" r="10.2" fill="url(#aR)"/>
<circle cx="122.4" cy="171" r="10.2" fill="url(#aW)"/>
<circle cx="132.6" cy="210.7" r="11" fill="url(#aC)"/>
<circle cx="106" cy="236" r="10.6" fill="url(#aR)"/>
<circle cx="154" cy="223.4" r="10.4" fill="url(#aW)"/>
<circle cx="151.6" cy="247.5" r="9.2" fill="url(#aG)"/>
<circle cx="171.9" cy="256.4" r="11" fill="url(#aC)"/>
<circle cx="176.2" cy="289" r="8.8" fill="url(#aW)"/>
<circle cx="221" cy="257" r="8" fill="url(#aW)"/>
<circle cx="233.8" cy="252.6" r="7.4" fill="url(#aW)"/>
</g>
<g id="protein2">
<path d="M140 392L136 410" stroke="#7c7c7c" stroke-opacity="0.6" stroke-width="6.2" stroke-linecap="round"/><path d="M140 392L138.0 401.0" stroke="#f7f7f7" stroke-width="5" stroke-linecap="round"/><path d="M138.0 401.0L136 410" stroke="#d01010" stroke-width="5" stroke-linecap="round"/>
<circle cx="135" cy="408" r="9" fill="url(#aDR)"/>
<circle cx="165" cy="411" r="6.5" fill="url(#aDR)"/>
<path d="M136 410L150 438" stroke="#7c7c7c" stroke-opacity="0.6" stroke-width="6.7" stroke-linecap="round"/><path d="M136 410L143.0 424.0" stroke="#d01010" stroke-width="5.5" stroke-linecap="round"/><path d="M143.0 424.0L150 438" stroke="#3c3c3c" stroke-width="5.5" stroke-linecap="round"/>
<path d="M165 411L152 438" stroke="#7c7c7c" stroke-opacity="0.6" stroke-width="5.7" stroke-linecap="round"/><path d="M165 411L158.5 424.5" stroke="#d01010" stroke-width="4.5" stroke-linecap="round"/><path d="M158.5 424.5L152 438" stroke="#3c3c3c" stroke-width="4.5" stroke-linecap="round"/>
<circle cx="150.2" cy="438.3" r="7.5" fill="url(#aC)"/>
<path d="M160 440L150 438" stroke="#7c7c7c" stroke-opacity="0.6" stroke-width="5.2" stroke-linecap="round"/><path d="M160 440L155.0 439.0" stroke="#d01010" stroke-width="4" stroke-linecap="round"/><path d="M155.0 439.0L150 438" stroke="#3c3c3c" stroke-width="4" stroke-linecap="round"/>
<path d="M138.6 456L137.6 484.7" stroke="#7c7c7c" stroke-opacity="0.6" stroke-width="5.8" stroke-linecap="round"/><path d="M138.6 456L138.1 470.4" stroke="#6b5555" stroke-width="4.6" stroke-linecap="round"/><path d="M138.1 470.4L137.6 484.7" stroke="#3c3c3c" stroke-width="4.6" stroke-linecap="round"/>
<path d="M75 441C70 431 76 424 85 424C92 424 97 427 100 431" fill="none" stroke="#dcd6ec" stroke-width="4.2"/>
<path d="M97.8 368V396" stroke="#dedaec" stroke-width="4"/>
<path d="M147.6 458C154 466 158 476 159.5 485" fill="none" stroke="#8e6f8e" stroke-width="1.2"/>
<path d="M60 368C68 354 82 346 96 349" fill="none" stroke="#0c589c" stroke-width="10.1" stroke-linecap="butt" stroke-linejoin="round"/><path d="M60 368C68 354 82 346 96 349" fill="none" stroke="#0f66b0" stroke-width="9" stroke-linecap="butt" stroke-linejoin="round"/>
<path d="M92 378C98 368 106 362 112 362" fill="none" stroke="#0c589c" stroke-width="9.1" stroke-linecap="butt" stroke-linejoin="round"/><path d="M92 378C98 368 106 362 112 362" fill="none" stroke="#0f66b0" stroke-width="8" stroke-linecap="butt" stroke-linejoin="round"/>
<path d="M140 346C146 330 156 322 166 324" fill="none" stroke="#0c589c" stroke-width="9.1" stroke-linecap="butt" stroke-linejoin="round"/><path d="M140 346C146 330 156 322 166 324" fill="none" stroke="#0f66b0" stroke-width="8" stroke-linecap="butt" stroke-linejoin="round"/>
<path d="M158 366C164 352 172 344 180 346" fill="none" stroke="#0c589c" stroke-width="9.1" stroke-linecap="butt" stroke-linejoin="round"/><path d="M158 366C164 352 172 344 180 346" fill="none" stroke="#0f66b0" stroke-width="8" stroke-linecap="butt" stroke-linejoin="round"/>
<path d="M66 470C72 457 82 448 94 446" fill="none" stroke="#0c589c" stroke-width="10.1" stroke-linecap="butt" stroke-linejoin="round"/><path d="M66 470C72 457 82 448 94 446" fill="none" stroke="#0f66b0" stroke-width="9" stroke-linecap="butt" stroke-linejoin="round"/>
<path d="M98 468C100 458 106 450 112 450" fill="none" stroke="#0c589c" stroke-width="9.1" stroke-linecap="butt" stroke-linejoin="round"/><path d="M98 468C100 458 106 450 112 450" fill="none" stroke="#0f66b0" stroke-width="8" stroke-linecap="butt" stroke-linejoin="round"/>
<path d="M128 322C125 345 130 365 140 385C150 405 162 420 172 432" fill="none" stroke="#0c589c" stroke-width="11.6" stroke-linecap="butt" stroke-linejoin="round"/><path d="M128 322C125 345 130 365 140 385C150 405 162 420 172 432" fill="none" stroke="#1a87da" stroke-width="10.5" stroke-linecap="butt" stroke-linejoin="round"/><path d="M128 322C125 345 130 365 140 385C150 405 162 420 172 432" fill="none" stroke="#2b96e6" stroke-opacity="0.55" stroke-width="4.4" stroke-linecap="butt" stroke-linejoin="round"/>
<path d="M118 362C116 390 126 420 142 448" fill="none" stroke="#0c589c" stroke-width="13.1" stroke-linecap="butt" stroke-linejoin="round"/><path d="M118 362C116 390 126 420 142 448" fill="none" stroke="#1a87da" stroke-width="12" stroke-linecap="butt" stroke-linejoin="round"/><path d="M118 362C116 390 126 420 142 448" fill="none" stroke="#2b96e6" stroke-opacity="0.55" stroke-width="5.0" stroke-linecap="butt" stroke-linejoin="round"/>
<polygon points="131,446 152,438 149,458 143,460" fill="#1a87da" stroke="#0c589c" stroke-width="0.8" stroke-linejoin="round"/>
<path d="M100 400L112 462" fill="none" stroke="#0c589c" stroke-width="14.1" stroke-linecap="butt" stroke-linejoin="round"/><path d="M100 400L112 462" fill="none" stroke="#1a87da" stroke-width="13" stroke-linecap="butt" stroke-linejoin="round"/><path d="M100 400L112 462" fill="none" stroke="#2b96e6" stroke-opacity="0.55" stroke-width="5.5" stroke-linecap="butt" stroke-linejoin="round"/>
<polygon points="91,398 103,392 112,404 108,412 96,412" fill="#1a87da" stroke="#0c589c" stroke-width="0.8" stroke-linejoin="round"/>
<path d="M131 352C134 368 142 388 152 402C160 414 168 426 174 436" fill="none" stroke="#0c589c" stroke-width="12.1" stroke-linecap="butt" stroke-linejoin="round"/><path d="M131 352C134 368 142 388 152 402C160 414 168 426 174 436" fill="none" stroke="#1a87da" stroke-width="11" stroke-linecap="butt" stroke-linejoin="round"/><path d="M131 352C134 368 142 388 152 402C160 414 168 426 174 436" fill="none" stroke="#2b96e6" stroke-opacity="0.55" stroke-width="4.6" stroke-linecap="butt" stroke-linejoin="round"/>
<circle cx="142.2" cy="374" r="10.6" fill="url(#aBr)"/>
<circle cx="156.6" cy="385" r="8.2" fill="url(#aG)"/>
<polygon points="200.0,422.2 175.5,396.1 177.7,394.0 166,394 165.3,405.6 167.5,403.6 192.0,429.8" fill="#1a87da" stroke="#0c589c" stroke-width="0.8" stroke-linejoin="round"/>
<polygon points="209.0,416.7 193.5,402.7 194.8,401.2 186,402 186.1,410.8 187.4,409.4 203.0,423.3" fill="#1a87da" stroke="#0c589c" stroke-width="0.8" stroke-linejoin="round"/>
<polygon points="171,428 181,424 184,435 176,439" fill="#9a9a9a" stroke="#666" stroke-width="0.8" stroke-linejoin="round"/>
<path d="M181 350C184 372 192 390 206 400C216 407 228 406 237 397" fill="none" stroke="#0c589c" stroke-width="10.6" stroke-linecap="butt" stroke-linejoin="round"/><path d="M181 350C184 372 192 390 206 400C216 407 228 406 237 397" fill="none" stroke="#1a87da" stroke-width="9.5" stroke-linecap="butt" stroke-linejoin="round"/><path d="M181 350C184 372 192 390 206 400C216 407 228 406 237 397" fill="none" stroke="#2b96e6" stroke-opacity="0.55" stroke-width="4.0" stroke-linecap="butt" stroke-linejoin="round"/>
<path d="M226 406C236 406 242 398 240 391" fill="none" stroke="#0a4f8e" stroke-width="3.6"/>
<path d="M226 406C236 406 242 398 240 391" fill="none" stroke="#e6ecf5" stroke-width="2.2"/>
<path d="M241 392.5H262" stroke="#8c1a2a" stroke-width="1.6"/>
<polygon points="47,339 63,343 64,358 49,353" fill="#1a87da" stroke="#0c589c" stroke-width="0.8" stroke-linejoin="round"/>
<path d="M50 343l3 3m1-3l3 3m-6 2l4 0m1-5l0 6" stroke="#b9d98a" stroke-width="0.9"/>
<path d="M55.5 346C50 362 57 372 68 370.5C80 369 83 353 94 349C104 346 110 355 108.5 365C107 375 100 381 92 378" fill="none" stroke="#0c589c" stroke-width="12.1" stroke-linecap="butt" stroke-linejoin="round"/><path d="M55.5 346C50 362 57 372 68 370.5C80 369 83 353 94 349C104 346 110 355 108.5 365C107 375 100 381 92 378" fill="none" stroke="#1a87da" stroke-width="11" stroke-linecap="butt" stroke-linejoin="round"/><path d="M55.5 346C50 362 57 372 68 370.5C80 369 83 353 94 349C104 346 110 355 108.5 365C107 375 100 381 92 378" fill="none" stroke="#2b96e6" stroke-opacity="0.55" stroke-width="4.6" stroke-linecap="butt" stroke-linejoin="round"/>
<path d="M128 361C124 340 127 320 138 313.5C150 307 166 313 166 325C166 336 155 346 143 345C140 344 140 340 141 337" fill="none" stroke="#0c589c" stroke-width="10.6" stroke-linecap="butt" stroke-linejoin="round"/><path d="M128 361C124 340 127 320 138 313.5C150 307 166 313 166 325C166 336 155 346 143 345C140 344 140 340 141 337" fill="none" stroke="#1a87da" stroke-width="9.5" stroke-linecap="butt" stroke-linejoin="round"/><path d="M128 361C124 340 127 320 138 313.5C150 307 166 313 166 325C166 336 155 346 143 345C140 344 140 340 141 337" fill="none" stroke="#2b96e6" stroke-opacity="0.55" stroke-width="4.0" stroke-linecap="butt" stroke-linejoin="round"/>
<path d="M167 333C177 335 183 344 180 354C177 364 168 368 158 366C154 365 153 361 154 358" fill="none" stroke="#0c589c" stroke-width="10.1" stroke-linecap="butt" stroke-linejoin="round"/><path d="M167 333C177 335 183 344 180 354C177 364 168 368 158 366C154 365 153 361 154 358" fill="none" stroke="#1a87da" stroke-width="9" stroke-linecap="butt" stroke-linejoin="round"/><path d="M167 333C177 335 183 344 180 354C177 364 168 368 158 366C154 365 153 361 154 358" fill="none" stroke="#2b96e6" stroke-opacity="0.55" stroke-width="3.8" stroke-linecap="butt" stroke-linejoin="round"/>
<path d="M156 368C168 370 186 378 199 392" fill="none" stroke="#0c589c" stroke-width="10.1" stroke-linecap="butt" stroke-linejoin="round"/><path d="M156 368C168 370 186 378 199 392" fill="none" stroke="#1a87da" stroke-width="9" stroke-linecap="butt" stroke-linejoin="round"/><path d="M156 368C168 370 186 378 199 392" fill="none" stroke="#2b96e6" stroke-opacity="0.55" stroke-width="3.8" stroke-linecap="butt" stroke-linejoin="round"/>
<path d="M160 374C164 384 172 392 182 398" fill="none" stroke="#0c589c" stroke-width="8.1" stroke-linecap="butt" stroke-linejoin="round"/><path d="M160 374C164 384 172 392 182 398" fill="none" stroke="#0f66b0" stroke-width="7" stroke-linecap="butt" stroke-linejoin="round"/>
<path d="M58 444C52 456 56 472 67 472.5C78 473 80 460 87 449C93 441 104 439 109 448C114 457 112 466 105 468C101 469 99 467 98 465" fill="none" stroke="#0c589c" stroke-width="12.6" stroke-linecap="butt" stroke-linejoin="round"/><path d="M58 444C52 456 56 472 67 472.5C78 473 80 460 87 449C93 441 104 439 109 448C114 457 112 466 105 468C101 469 99 467 98 465" fill="none" stroke="#1a87da" stroke-width="11.5" stroke-linecap="butt" stroke-linejoin="round"/><path d="M58 444C52 456 56 472 67 472.5C78 473 80 460 87 449C93 441 104 439 109 448C114 457 112 466 105 468C101 469 99 467 98 465" fill="none" stroke="#2b96e6" stroke-opacity="0.55" stroke-width="4.8" stroke-linecap="butt" stroke-linejoin="round"/>
<path d="M88 450C94 440 99 430 101 420" fill="none" stroke="#0c589c" stroke-width="10.1" stroke-linecap="butt" stroke-linejoin="round"/><path d="M88 450C94 440 99 430 101 420" fill="none" stroke="#1a87da" stroke-width="9" stroke-linecap="butt" stroke-linejoin="round"/><path d="M88 450C94 440 99 430 101 420" fill="none" stroke="#2b96e6" stroke-opacity="0.55" stroke-width="3.8" stroke-linecap="butt" stroke-linejoin="round"/>
<path d="M202.5 363L216 379.5" stroke="#7c7c7c" stroke-opacity="0.6" stroke-width="6.4" stroke-linecap="round"/><path d="M202.5 363L209.2 371.2" stroke="#f7f7f7" stroke-width="5.2" stroke-linecap="round"/><path d="M209.2 371.2L216 379.5" stroke="#d01010" stroke-width="5.2" stroke-linecap="round"/>
<path d="M282.2 385.1L303.5 372.9" stroke="#7c7c7c" stroke-opacity="0.6" stroke-width="6.4" stroke-linecap="round"/><path d="M282.2 385.1L292.9 379.0" stroke="#f7f7f7" stroke-width="5.2" stroke-linecap="round"/><path d="M292.9 379.0L303.5 372.9" stroke="#d01010" stroke-width="5.2" stroke-linecap="round"/>
<path d="M268.2 392.7L273.1 425" stroke="#7c7c7c" stroke-opacity="0.6" stroke-width="6.4" stroke-linecap="round"/><path d="M268.2 392.7L270.6 408.9" stroke="#3c3c3c" stroke-width="5.2" stroke-linecap="round"/><path d="M270.6 408.9L273.1 425" stroke="#f7f7f7" stroke-width="5.2" stroke-linecap="round"/>
<path d="M273.1 425L306.2 444" stroke="#7c7c7c" stroke-opacity="0.6" stroke-width="6.4" stroke-linecap="round"/><path d="M273.1 425L289.6 434.5" stroke="#3c3c3c" stroke-width="5.2" stroke-linecap="round"/><path d="M289.6 434.5L306.2 444" stroke="#d01010" stroke-width="5.2" stroke-linecap="round"/>
<path d="M273.1 425L238.9 444" stroke="#7c7c7c" stroke-opacity="0.6" stroke-width="6.4" stroke-linecap="round"/><path d="M273.1 425L256.0 434.5" stroke="#d01010" stroke-width="5.2" stroke-linecap="round"/><path d="M256.0 434.5L238.9 444" stroke="#d01010" stroke-width="5.2" stroke-linecap="round"/>
<path d="M238.9 444L216.8 432.6" stroke="#7c7c7c" stroke-opacity="0.6" stroke-width="6.4" stroke-linecap="round"/><path d="M238.9 444L227.9 438.3" stroke="#9a9a9a" stroke-width="5.2" stroke-linecap="round"/><path d="M227.9 438.3L216.8 432.6" stroke="#d01010" stroke-width="5.2" stroke-linecap="round"/>
<path d="M238.9 444L238.5 481" stroke="#7c7c7c" stroke-opacity="0.6" stroke-width="6.4" stroke-linecap="round"/><path d="M238.9 444L238.7 462.5" stroke="#3c3c3c" stroke-width="5.2" stroke-linecap="round"/><path d="M238.7 462.5L238.5 481" stroke="#d01010" stroke-width="5.2" stroke-linecap="round"/>
<path d="M137.6 484.7L99.5 486" stroke="#7c7c7c" stroke-opacity="0.6" stroke-width="6.4" stroke-linecap="round"/><path d="M137.6 484.7L118.5 485.4" stroke="#3c3c3c" stroke-width="5.2" stroke-linecap="round"/><path d="M118.5 485.4L99.5 486" stroke="#d01010" stroke-width="5.2" stroke-linecap="round"/>
<path d="M137.6 484.7L171.7 485" stroke="#7c7c7c" stroke-opacity="0.6" stroke-width="6.4" stroke-linecap="round"/><path d="M137.6 484.7L154.6 484.9" stroke="#3c3c3c" stroke-width="5.2" stroke-linecap="round"/><path d="M154.6 484.9L171.7 485" stroke="#f7f7f7" stroke-width="5.2" stroke-linecap="round"/>
<path d="M137.6 484.7L137.7 525" stroke="#7c7c7c" stroke-opacity="0.6" stroke-width="6.4" stroke-linecap="round"/><path d="M137.6 484.7L137.6 504.9" stroke="#3c3c3c" stroke-width="5.2" stroke-linecap="round"/><path d="M137.6 504.9L137.7 525" stroke="#d01010" stroke-width="5.2" stroke-linecap="round"/>
<circle cx="202.5" cy="362.5" r="8.6" fill="url(#aW)"/>
<circle cx="216" cy="379.5" r="10" fill="url(#aR)"/>
<circle cx="303.5" cy="372.9" r="10" fill="url(#aR)"/>
<circle cx="268.2" cy="392.7" r="11" fill="url(#aC)"/>
<circle cx="282.2" cy="385.1" r="10.6" fill="url(#aW)"/>
<circle cx="273.1" cy="425" r="12.4" fill="url(#aC)"/>
<circle cx="306.2" cy="444" r="11" fill="url(#aR)"/>
<circle cx="238.9" cy="444" r="11.6" fill="url(#aC)"/>
<circle cx="216.8" cy="432.6" r="9.6" fill="url(#aR)"/>
<circle cx="238.5" cy="481" r="11" fill="url(#aR)"/>
<circle cx="137.6" cy="485" r="11.6" fill="url(#aC)"/>
<circle cx="99.5" cy="486" r="10.4" fill="url(#aDR)"/>
<circle cx="171.7" cy="485" r="9.6" fill="url(#aW)"/>
<circle cx="137.7" cy="525" r="10.6" fill="url(#aR)"/>
</g>
<!--/PROTEINS-->

</svg>
</body>
</html>
